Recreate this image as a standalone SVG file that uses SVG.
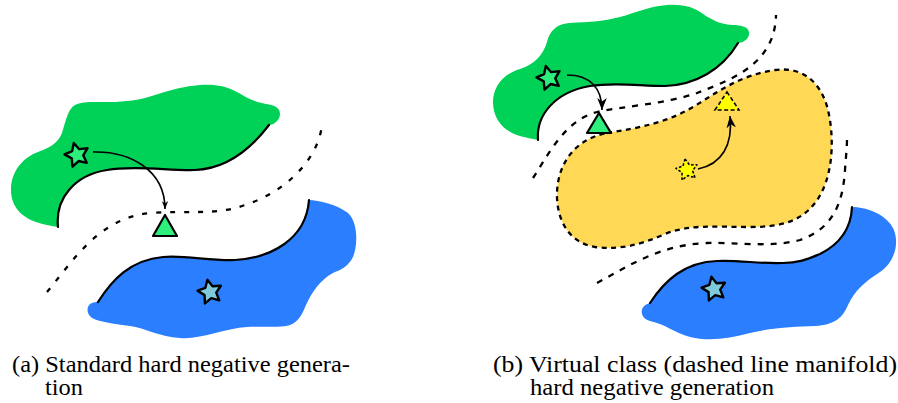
<svg xmlns="http://www.w3.org/2000/svg" width="898" height="403" viewBox="0 0 898 403">
<style>
.green{fill:#00D157}
.blue{fill:#2B7FFF}
.edge{fill:none;stroke:#000;stroke-width:2.2;stroke-linecap:round}
.bound{fill:none;stroke:#000;stroke-width:2.3}
.dashA{stroke-dasharray:5 9}
.dashB{stroke-dasharray:6 7}
.ydash{fill:#FFD955;stroke:#000;stroke-width:2.3;stroke-dasharray:5 4.5}
.gstar{fill:#2EEE7C;stroke:#000;stroke-width:2.4;stroke-linejoin:round}
.bstar{fill:#7ECADB;stroke:#000;stroke-width:2.4;stroke-linejoin:round}
.ystar{fill:#FFFF00;stroke:#000;stroke-width:1.7;stroke-dasharray:3 2;stroke-linejoin:round}
.gtri{fill:#2EEE7C;stroke:#000;stroke-width:2.2;stroke-linejoin:round}
.ytri{fill:#FFFF00;stroke:#000;stroke-width:1.6;stroke-dasharray:4 2.5}
.conn{fill:none;stroke:#000;stroke-width:1.6}
.cap{font-family:"Liberation Serif","Times New Roman",serif;font-size:22.5px;fill:#000}
</style>
<defs>
<polygon id="star" points="0,-12.5 3.67,-5.05 11.89,-3.86 5.95,1.93 7.35,10.11 0,6.25 -7.35,10.11 -5.95,1.93 -11.89,-3.86 -3.67,-5.05"/>
<marker id="headS" viewBox="0 0 10 8" refX="10" refY="4" markerWidth="8" markerHeight="7" markerUnits="userSpaceOnUse" orient="auto">
<path d="M10,4 L0,0 L3,4 L0,8 Z" fill="#000"/>
</marker>
<marker id="headL" viewBox="0 0 10 8" refX="10" refY="4" markerWidth="12" markerHeight="10" markerUnits="userSpaceOnUse" orient="auto">
<path d="M10,4 L0,0 L3,4 L0,8 Z" fill="#000"/>
</marker>
</defs>

<!-- Panel (a) -->
<g id="a-green-class">
<path class="green" d="M58,227 C55,198 75,175 107,170 C135,165 170,171 195,170 C225,169 250,150 269,125 C274,125 280,120 280,114 C280,108 275,105 266,104 C252,102 245,96 235,91 C225,86 215,84 200,85 C185,86 170,90 155,95 C140,100 125,102 110,102 C95,102 82,101 75,105 C68,109 66,120 62,133 C58,144 48,148 38,152 C22,158 11,172 11,190 C11,207 22,217 36,222 C45,225 52,226 58,227 Z"/>
<path class="edge" d="M58,227 C55,198 75,175 107,170 C135,165 170,171 195,170 C225,169 250,150 269,125"/>
</g>
<g id="a-blue-class">
<path class="blue" d="M98,302 C112,280 130,260 163,257 C185,255 210,261 235,260 C270,258 306,240 309,200 C318,200 338,205 348,213 C358,222 358,245 353,257 C348,267 340,270 333,273 C320,280 312,292 306,305 C302,315 298,322 290,325 C280,328 265,326 247,327 C225,328 200,340 180,338 C160,337 145,328 130,326 C115,324 100,322 92,318 C86,314 86,305 92,303 C94,302 96,302 98,302 Z"/>
<path class="edge" d="M98,302 C112,280 130,260 163,257 C185,255 210,261 235,260 C270,258 306,240 309,200"/>
</g>
<g id="a-boundary">
<path class="bound dashA" d="M47,292 C75,258 100,218 150,213 C185,210 215,216 245,205 C285,192 318,160 322,125"/>
</g>
<g id="a-green-star"><use href="#star" class="gstar" transform="translate(77,155) rotate(-15)"/></g>
<g id="a-blue-star"><use href="#star" class="bstar" transform="translate(210,292) rotate(-12)"/></g>
<g id="a-negative"><polygon class="gtri" points="165,215 177,236 153,236"/></g>

<!-- Panel (b) -->
<g id="b-green-class">
<path class="green" d="M538,140 C536,115 555,92 590,86 C615,82 640,86 665,86 C695,85 722,70 738,43 C744,43 750,38 749,32 C748,27 742,25 732,25 C720,24 712,20 703,14 C695,8 685,4 667,5 C650,6 635,13 620,17 C605,21 590,22 570,23 C555,24 550,32 547,42 C543,55 535,64 520,69 C503,74 493,87 493,102 C493,120 505,132 520,136 C528,138 533,139 538,140 Z"/>
<path class="edge" d="M538,140 C536,115 555,92 590,86 C615,82 640,86 665,86 C695,85 722,70 738,43"/>
</g>
<g id="b-blue-class">
<path class="blue" d="M650,303 C665,280 685,262 717,261 C740,260 760,264 783,263 C800,263 810,258 820,254 C838,245 851,230 852,207 C865,207 885,213 893,228 C900,242 895,262 880,272 C866,281 855,290 848,305 C843,317 835,325 815,326 C795,327 775,327 750,333 C730,338 710,342 690,337 C675,333 665,324 650,321 C640,319 638,306 650,303 Z"/>
<path class="edge" d="M650,303 C665,280 685,262 717,261 C740,260 760,264 783,263 C800,263 810,258 820,254 C838,245 851,230 852,207"/>
</g>
<g id="b-virtual-class">
<path class="ydash" d="M607,133 C640,128 668,122 693,107 C718,92 740,75 775,70 C805,66 822,85 828,110 C835,140 833,180 815,203 C800,222 780,227 750,227 C715,227 690,224 665,234 C640,245 620,250 595,247 C570,243 558,222 557,198 C556,170 570,140 607,133 Z"/>
</g>
<g id="b-boundaries">
<path class="bound dashB" d="M533,178 C548,155 565,120 597,112 C625,106 665,104 697,93 C730,80 775,65 776,15"/>
<path class="bound dashB" d="M597,283 C630,265 660,245 707,243 C735,242 770,248 800,240 C835,228 843,200 845,170 C846,155 847,148 847,138"/>
</g>
<g id="b-green-star"><use href="#star" class="gstar" transform="translate(549,78) rotate(-15)"/></g>
<g id="b-blue-star"><use href="#star" class="bstar" transform="translate(714,289) rotate(-12)"/></g>
<g id="b-virtual-star"><use href="#star" class="ystar" transform="translate(687,170) rotate(-10) scale(0.9)"/></g>
<g id="b-negative"><polygon class="gtri" points="599,113 611,133 587,133"/></g>
<g id="b-virtual-negative"><polygon class="ytri" points="727,92 739,110 715,110"/></g>

<g id="connectors">
<path class="conn" marker-end="url(#headS)" d="M93,152 C130,151 165,170 165,209"/>
<path class="conn" marker-end="url(#headL)" d="M567,75 C590,75 602,88 602,110"/>
<path class="conn" marker-end="url(#headL)" d="M698,169 C722,164 733,145 730,116"/>
</g>

<g id="captions">
<text class="cap" x="12" y="372" textLength="338" lengthAdjust="spacingAndGlyphs">(a) Standard hard negative genera-</text>
<text class="cap" x="45" y="395" textLength="38" lengthAdjust="spacingAndGlyphs">tion</text>
<text class="cap" x="493" y="372" textLength="404" lengthAdjust="spacingAndGlyphs">(b) Virtual class (dashed line manifold)</text>
<text class="cap" x="530" y="395" textLength="244" lengthAdjust="spacingAndGlyphs">hard negative generation</text>
</g>
</svg>
